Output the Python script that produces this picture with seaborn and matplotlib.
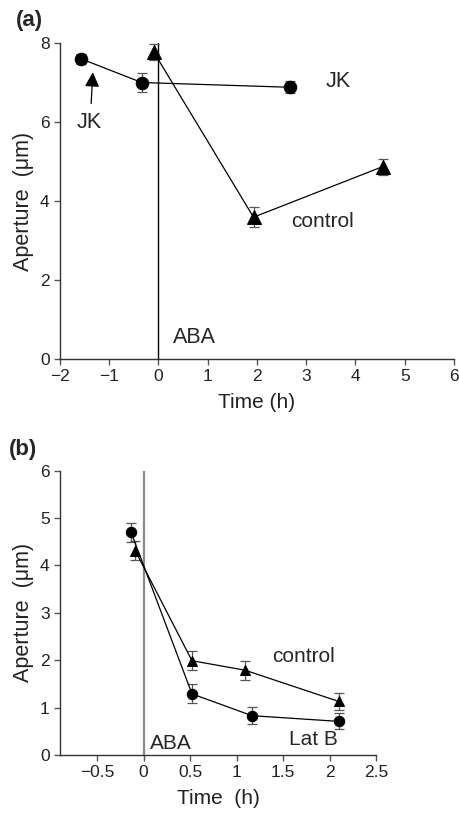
import matplotlib
matplotlib.use("Agg")
import matplotlib.pyplot as plt
import seaborn as sns
import pandas as pd

# --- panel (a) data ---
A_JK_T = [-1.57, -0.34, 2.67]
A_JK_AP = [7.6, 7.0, 6.88]
A_JK_ERR = [0.12, 0.25, 0.15]
A_CTRL_T = [-0.1, 1.93, 4.55]
A_CTRL_AP = [7.78, 3.59, 4.87]
A_CTRL_ERR = [0.2, 0.26, 0.2]

# --- panel (b) data ---
B_LATB_T = [-0.135, 0.52, 1.166, 2.097]
B_LATB_AP = [4.70, 1.29, 0.83, 0.71]
B_LATB_ERR = [0.2, 0.2, 0.18, 0.17]
B_CTRL_T = [-0.09, 0.52, 1.09, 2.1]
B_CTRL_AP = [4.31, 1.99, 1.79, 1.13]
B_CTRL_ERR = [0.2, 0.2, 0.2, 0.18]

sns.set_style("ticks")
plt.rcParams["font.family"] = ["Liberation Sans", "DejaVu Sans"]

LABEL_FS = 15
TICK_FS = 12.5
ERR_COLOR = "#555555"


def draw_series(ax, t, ap, err, marker, ms):
    df = pd.DataFrame({"t": t, "ap": ap})
    ax.errorbar(t, ap, yerr=err, fmt="none", ecolor=ERR_COLOR,
                elinewidth=0.9, capsize=3.5, capthick=0.9, zorder=2)
    sns.lineplot(data=df, x="t", y="ap", ax=ax, color="black", lw=0.9,
                 marker=marker, markersize=ms, markeredgecolor="black",
                 markerfacecolor="black", sort=False, zorder=3)


def style_axes(ax):
    sns.despine(ax=ax)
    for s in ("left", "bottom"):
        ax.spines[s].set_color("#333333")
        ax.spines[s].set_linewidth(1.0)
    ax.tick_params(direction="out", length=4, width=1.0, color="#555555",
                   labelsize=TICK_FS, labelcolor="#222222")
    ax.set_ylabel("Aperture  (\u03bcm)", fontsize=LABEL_FS + 0.5,
                  color="#222222")


fig = plt.figure(figsize=(4.6, 8.18), dpi=100)

# ---------- (a) ----------
ax1 = fig.add_axes([0.1304, 0.5611, 0.8565, 0.3863])
ax1.axvline(0, color="black", lw=1.0, zorder=1)
draw_series(ax1, A_JK_T, A_JK_AP, A_JK_ERR, "o", 9)
draw_series(ax1, A_CTRL_T, A_CTRL_AP, A_CTRL_ERR, "^", 9.5)
ax1.set_xlim(-2, 6)
ax1.set_ylim(0, 8)
ax1.set_xticks(range(-2, 7))
ax1.set_yticks([0, 2, 4, 6, 8])
style_axes(ax1)
ax1.set_xlabel("Time (h)", fontsize=LABEL_FS, color="#222222", labelpad=6)
ax1.annotate("", xy=(-1.33, 7.33), xytext=(-1.37, 6.4),
             arrowprops=dict(arrowstyle="-|>", color="black", lw=0.9,
                             mutation_scale=22))
ax1.text(-1.41, 5.98, "JK", fontsize=LABEL_FS + 0.5, ha="center", va="center")
ax1.text(3.65, 7.02, "JK", fontsize=LABEL_FS + 0.5, ha="center", va="center")
ax1.text(3.34, 3.47, "control", fontsize=LABEL_FS, ha="center", va="center")
ax1.text(0.74, 0.55, "ABA", fontsize=LABEL_FS + 0.5, ha="center", va="center")
fig.text(0.063, 0.975, "(a)", fontsize=16, fontweight="bold",
         ha="center", va="center")

# ---------- (b) ----------
ax2 = fig.add_axes([0.1304, 0.077, 0.687, 0.3476])
ax2.axvline(0, color="#888888", lw=1.6, zorder=1)
draw_series(ax2, B_LATB_T, B_LATB_AP, B_LATB_ERR, "o", 7.5)
draw_series(ax2, B_CTRL_T, B_CTRL_AP, B_CTRL_ERR, "^", 7.5)
ax2.set_xlim(-0.9, 2.5)
ax2.set_ylim(0, 6)
ax2.set_xticks([-0.5, 0, 0.5, 1, 1.5, 2, 2.5])
ax2.set_xticklabels(["\u22120.5", "0", "0.5", "1", "1.5", "2", "2.5"])
ax2.set_yticks(range(0, 7))
style_axes(ax2)
ax2.set_xlabel("Time  (h)", fontsize=LABEL_FS, color="#222222", labelpad=6)
ax2.text(1.72, 2.07, "control", fontsize=LABEL_FS, ha="center", va="center")
ax2.text(1.83, 0.33, "Lat B", fontsize=LABEL_FS, ha="center", va="center")
ax2.text(0.29, 0.25, "ABA", fontsize=LABEL_FS, ha="center", va="center")
fig.text(0.05, 0.45, "(b)", fontsize=16, fontweight="bold",
         ha="center", va="center")

fig.savefig("out.png", dpi=100)
